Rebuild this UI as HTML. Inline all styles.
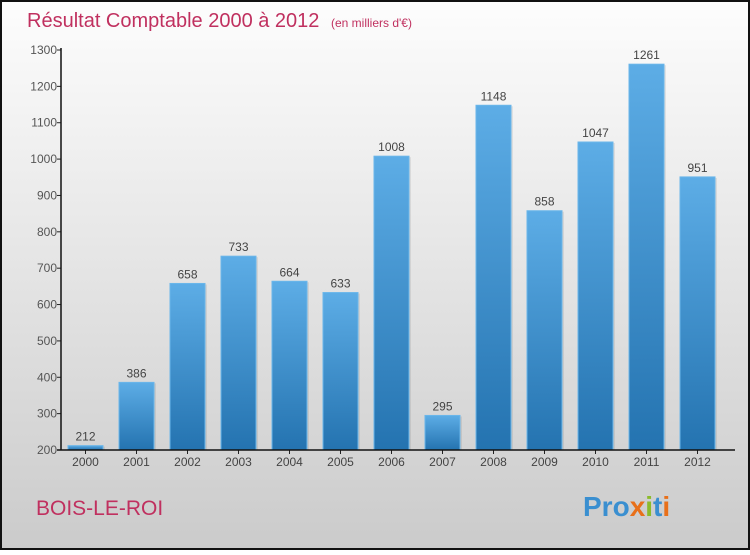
<!DOCTYPE html>
<html><head><meta charset="utf-8"><style>
body{margin:0;width:750px;height:550px;overflow:hidden;font-family:"Liberation Sans",sans-serif}
</style></head><body>
<svg width="750" height="550" xmlns="http://www.w3.org/2000/svg">
<defs>
<linearGradient id="bg" x1="0" y1="0" x2="0" y2="1"><stop offset="0" stop-color="#fdfdfd"/><stop offset="1" stop-color="#cbcbcb"/></linearGradient>
<linearGradient id="bar" x1="0" y1="0" x2="0" y2="1"><stop offset="0" stop-color="#5dade6"/><stop offset="1" stop-color="#2473b0"/></linearGradient>
</defs>
<rect x="1" y="1" width="748" height="548" fill="url(#bg)" stroke="#111" stroke-width="2"/>
<text x="27" y="27" font-size="20" fill="#c0305f">Résultat Comptable 2000 à 2012 <tspan font-size="12" dx="6">(en milliers d'€)</tspan></text>
<g id="g"></g>
<text x="36" y="515" font-size="21" fill="#c0305f">BOIS-LE-ROI</text>
<text x="583" y="516" font-size="28" font-weight="bold"><tspan fill="#3a8fd0">Pro</tspan><tspan fill="#e8701a">x</tspan><tspan fill="#8bbb2a">i</tspan><tspan fill="#3a8fd0">t</tspan><tspan fill="#e8701a">i</tspan></text>
</svg>
<script>
const years=["2000","2001","2002","2003","2004","2005","2006","2007","2008","2009","2010","2011","2012"];
const values=[212,386,658,733,664,633,1008,295,1148,858,1047,1261,951];
const ticks=[200,300,400,500,600,700,800,900,1000,1100,1200,1300];
const NS="http://www.w3.org/2000/svg";
const g=document.getElementById('g');
const y=v=>450-(v-200)*400/1100;
const x=i=>85.5+51*i;
function mk(t,a,txt){const e=document.createElementNS(NS,t);for(const k in a)e.setAttribute(k,a[k]);if(txt!=null)e.textContent=txt;g.appendChild(e);return e;}
ticks.forEach(t=>{
 let l=mk('line',{x1:57,x2:61,y1:y(t),y2:y(t),stroke:'#222'});
 
 
 let tx=mk('text',{x:57,y:y(t)+4,'font-size':12,fill:'#555','text-anchor':'end'},t);
 
 
});
values.forEach((v,i)=>{
 let s=mk('rect',{x:x(i)-17.5+2,y:y(v)+1,width:35,height:450-y(v)-1,fill:'#000',opacity:0.08});
 
 
 let r=mk('rect',{x:x(i)-17.5,y:y(v),width:35,height:450-y(v),fill:'url(#bar)',stroke:'#6ab6ea','stroke-width':1});
 
 
 let vl=mk('text',{x:x(i),y:y(v)-5,'font-size':12,fill:'#444','text-anchor':'middle'},v);
 
 
 let xl=mk('text',{x:x(i),y:466,'font-size':12,fill:'#444','text-anchor':'middle'},years[i]);
 
 
 let xt=mk('line',{x1:x(i),x2:x(i),y1:450,y2:454,stroke:'#222'});
 
 
});
let ya=mk('line',{x1:61,x2:61,y1:48,y2:450,stroke:'#111','stroke-width':1.5});


let xa=mk('line',{x1:57,x2:735,y1:450,y2:450,stroke:'#111','stroke-width':1.5});


</script>
</body></html>
